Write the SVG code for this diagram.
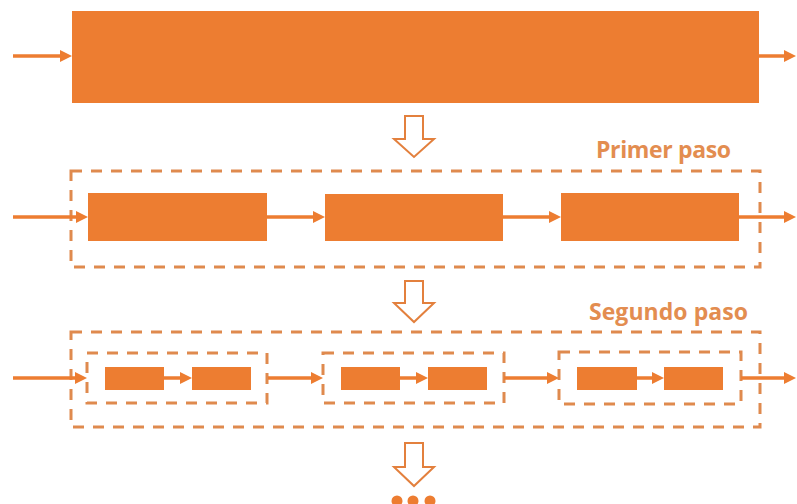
<svg xmlns="http://www.w3.org/2000/svg" width="797" height="504" viewBox="0 0 797 504">
<style>
.box{fill:#ED7D31;}
.grp{fill:none;stroke:#DF8A4E;stroke-width:3;stroke-dasharray:11 9;}
.blk{fill:#fff;stroke:#E3803D;stroke-width:2;stroke-linejoin:miter;}
.con{stroke:#ED7D31;stroke-width:3.5;fill:none;marker-end:url(#ah);}
.lbl{font-family:"Open Sans","Liberation Sans",sans-serif;font-weight:bold;font-size:23px;fill:#E38D50;}
.dot{fill:#ED7D31;}
</style>
<defs>
<marker id="ah" viewBox="0 0 12 12" refX="4" refY="6" markerWidth="12" markerHeight="12" markerUnits="userSpaceOnUse" orient="auto">
<path d="M0,0 L12,6 L0,12 z" fill="#ED7D31"/>
</marker>
</defs>
<rect width="797" height="504" fill="#fff"/>

<g id="whole"><rect class="box" x="72" y="11" width="687" height="92"/></g>

<g id="down1"><polygon class="blk" points="405,116 423,116 423,139 434,139 414,157 394,139 405,139"/></g>

<g id="step1">
<rect class="grp" x="71" y="171" width="689" height="96"/>
<text class="lbl" x="596" y="158" textLength="135">Primer paso</text>
</g>
<g id="s1b1"><rect class="box" x="88" y="193" width="179" height="48"/></g>
<g id="s1b2"><rect class="box" x="325" y="194" width="178" height="47"/></g>
<g id="s1b3"><rect class="box" x="561" y="193" width="178" height="48"/></g>

<g id="down2"><polygon class="blk" points="405,281 423,281 423,303 434,303 414,322 394,303 405,303"/></g>

<g id="step2">
<rect class="grp" x="71" y="332" width="689" height="95"/>
<text class="lbl" x="589" y="320" textLength="159">Segundo paso</text>
</g>
<g id="sub1">
<rect class="grp" x="87" y="353" width="180" height="50"/>
<rect class="box" x="105" y="367" width="59" height="23"/>
<rect class="box" x="192" y="367" width="59" height="23"/>
</g>
<g id="sub2">
<rect class="grp" x="323" y="353" width="181" height="50"/>
<rect class="box" x="341" y="367" width="59" height="23"/>
<rect class="box" x="428" y="367" width="59" height="23"/>
</g>
<g id="sub3">
<rect class="grp" x="559" y="352" width="182" height="52"/>
<rect class="box" x="577" y="367" width="60" height="23"/>
<rect class="box" x="664" y="367" width="59" height="23"/>
</g>

<g id="down3"><polygon class="blk" points="405,443 423,443 423,467 434,467 414,486 394,467 405,467"/></g>

<g id="more">
<circle class="dot" cx="397" cy="501" r="5.5"/>
<circle class="dot" cx="413" cy="501" r="5.5"/>
<circle class="dot" cx="430" cy="501" r="5.5"/>
</g>

<g id="connectors">
<line class="con" x1="13" y1="56" x2="64" y2="56"/>
<line class="con" x1="759" y1="56" x2="788" y2="56"/>
<line class="con" x1="13" y1="217" x2="80" y2="217"/>
<line class="con" x1="267" y1="217" x2="317" y2="217"/>
<line class="con" x1="503" y1="217" x2="553" y2="217"/>
<line class="con" x1="739" y1="217" x2="788" y2="217"/>
<line class="con" x1="13" y1="378" x2="79" y2="378"/>
<line class="con" x1="164" y1="378" x2="184" y2="378"/>
<line class="con" x1="268" y1="378" x2="315" y2="378"/>
<line class="con" x1="400" y1="378" x2="420" y2="378"/>
<line class="con" x1="504" y1="378" x2="551" y2="378"/>
<line class="con" x1="637" y1="378" x2="656" y2="378"/>
<line class="con" x1="741" y1="378" x2="788" y2="378"/>
</g>
</svg>
